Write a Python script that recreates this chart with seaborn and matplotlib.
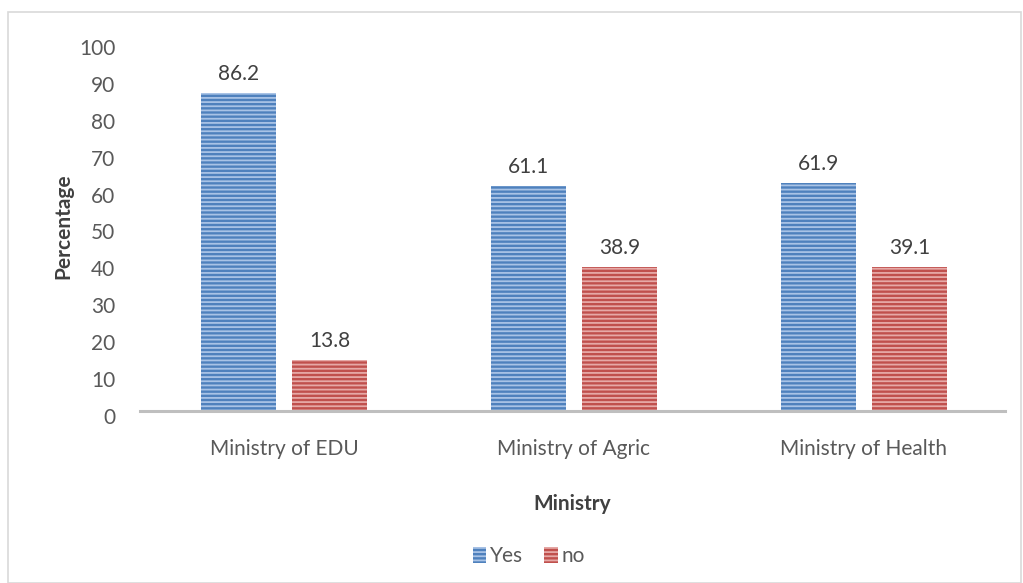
import matplotlib
matplotlib.use("Agg")
import matplotlib.pyplot as plt
import seaborn as sns
import pandas as pd
from matplotlib.patches import Rectangle, Patch
from matplotlib.transforms import ScaledTranslation

ministries = ["Ministry of EDU", "Ministry of Agric", "Ministry of Health"]
yes_values = [86.2, 61.1, 61.9]
no_values = [13.8, 38.9, 39.1]
series_names = ["Yes", "no"]
y_ticks = [0, 10, 20, 30, 40, 50, 60, 70, 80, 90, 100]

df = pd.DataFrame({
    "Ministry": ministries * 2,
    "Percentage": yes_values + no_values,
    "Response": [series_names[0]] * 3 + [series_names[1]] * 3,
})

sns.set_style("white")
plt.rcParams["font.family"] = ["Lato", "DejaVu Sans"]
plt.rcParams["hatch.linewidth"] = 1.3

face = {"Yes": "#4f81bd", "no": "#c0504d"}
stripe = {"Yes": "#a9c3e6", "no": "#e6a9a7"}
text_col = "#595959"
fs = 15

fig = plt.figure(figsize=(10.23, 5.83), dpi=100)
ax = fig.add_axes([0.137, 0.295, 0.845, 0.633])

sns.barplot(data=df, x="Ministry", y="Percentage", hue="Response",
            order=ministries, hue_order=series_names, palette=face,
            width=0.63, gap=0.18, ax=ax, legend=False, saturation=1)

for cont, name in zip(ax.containers, series_names):
    for bar in cont:
        bar.set_hatch("----")
        bar.set_edgecolor(stripe[name])
        bar.set_linewidth(0)
    ax.bar_label(cont, labels=[f"{v:.1f}" for v in cont.datavalues],
                 padding=6.5, fontsize=fs, color="#404040")

ax.set_ylim(0, 100)
ax.set_xlim(-0.497, 2.486)
ax.set_yticks(y_ticks)
ax.tick_params(axis="y", length=0, pad=18, labelsize=fs, labelcolor=text_col)
ax.tick_params(axis="x", length=0, pad=20, labelsize=fs, labelcolor=text_col)
# value axis labels sit slightly below their gridline positions
shift = ScaledTranslation(0, -5 / 100, fig.dpi_scale_trans)
for lbl in ax.get_yticklabels():
    lbl.set_transform(lbl.get_transform() + shift)

ax.set_xlabel("Ministry", fontsize=fs, fontweight="bold", color="#404040", labelpad=25)
ax.set_ylabel("Percentage", fontsize=fs, fontweight="bold", color="#404040", labelpad=4)

for side in ["top", "right", "left"]:
    ax.spines[side].set_visible(False)
ax.spines["bottom"].set_color("#bfbfbf")
ax.spines["bottom"].set_linewidth(2.2)

handles = [Patch(facecolor=face[n], edgecolor=stripe[n], hatch="----", linewidth=0)
           for n in series_names]
fig.legend(handles, series_names, loc="center", bbox_to_anchor=(0.517, 0.046),
           ncol=2, frameon=False, fontsize=fs, labelcolor=text_col,
           handlelength=0.65, handleheight=0.8, handletextpad=0.2, columnspacing=1.0)

fig.patches.append(Rectangle((8 / 1023, 0.0), 1013 / 1023, 571 / 583,
                             transform=fig.transFigure, fill=False,
                             edgecolor="#d9d9d9", linewidth=1.2))

fig.savefig("out.png", dpi=100)
